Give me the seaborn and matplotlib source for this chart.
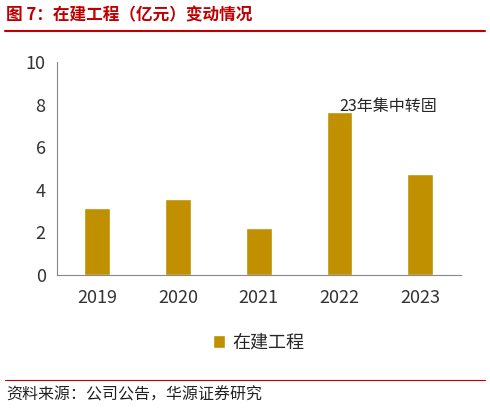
import numpy as np
import pandas as pd
import seaborn as sns
import matplotlib.pyplot as plt
from matplotlib.lines import Line2D

years = ["2019", "2020", "2021", "2022", "2023"]
values = [3.15, 3.55, 2.2, 7.65, 4.75]
series_name = "在建工程"

sns.set_style("white")
plt.rcParams['font.family'] = ['Noto Sans CJK SC', 'DejaVu Sans']

df = pd.DataFrame({"year": years, "value": values})
fig = plt.figure(figsize=(4.9, 4.11), dpi=100)
ax = fig.add_axes([0.116, 0.331, 0.824, 0.518])
sns.barplot(data=df, x="year", y="value", color="#C09000", width=0.32,
            saturation=1, ax=ax, label=series_name)
ax.set_ylim(0, 10)
ax.set_yticks(range(0, 11, 2))
ax.set_xlabel("")
ax.set_ylabel("")
ax.tick_params(axis="both", labelsize=13, colors="#333333", length=0)
ax.tick_params(axis="x", pad=10)
ax.tick_params(axis="y", pad=8)
for s in ["top", "right"]:
    ax.spines[s].set_visible(False)
for s in ["left", "bottom"]:
    ax.spines[s].set_color("#888888")
ax.annotate("23年集中转固", xy=(3, values[3]), xytext=(3.0, 7.9),
            fontsize=11.5, ha="left", va="center")
ax.legend(loc="upper center", bbox_to_anchor=(0.5, -0.2), frameon=False,
          fontsize=13, handlelength=0.7, handleheight=0.7, handletextpad=0.4)

fig.text(0.012, 0.963, "图 7：在建工程（亿元）变动情况", color="#C00000",
         fontsize=12, fontweight="bold", va="center")
fig.add_artist(Line2D([0.01, 0.99], [0.925, 0.925], color="#C00000", lw=1.5))
fig.add_artist(Line2D([0.01, 0.99], [0.075, 0.075], color="#C00000", lw=0.8))
fig.text(0.012, 0.04, "资料来源：公司公告，华源证券研究", fontsize=11.5,
         va="center", color="#222222")
fig.savefig("out.png", dpi=100)
